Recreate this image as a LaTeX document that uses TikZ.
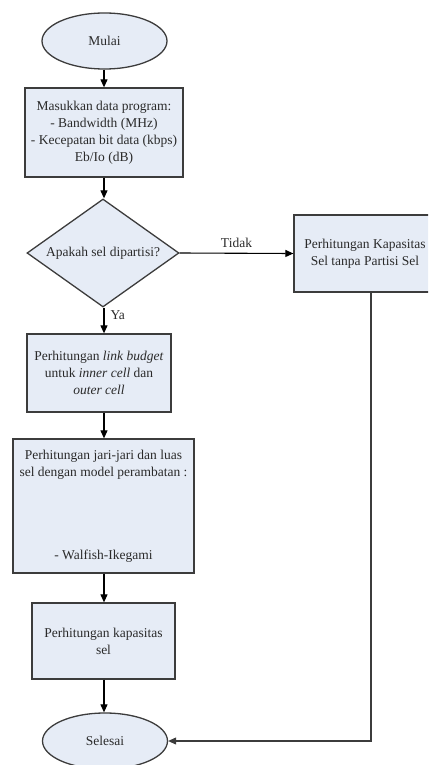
\documentclass[tikz,border=0pt]{standalone}
\usepackage{fontspec}
\setmainfont{Liberation Serif}
\usetikzlibrary{shapes.geometric,arrows.meta}
\definecolor{boxfill}{HTML}{E6ECF6}
\definecolor{boxedge}{HTML}{3C3C3C}
\definecolor{txt}{HTML}{2A2A2A}
\tikzset{
  base/.style={draw=boxedge, line width=1.3pt, fill=boxfill, text=txt, align=center,
    font=\fontsize{13.5pt}{17pt}\selectfont, inner sep=0pt},
  term/.style={base, ellipse, minimum width=125pt, minimum height=56pt},
  procbox/.style={base, rectangle},
  decide/.style={base, diamond, aspect=1.4, minimum width=152pt, minimum height=108pt},
  flow/.style={draw=black, line width=1.1pt, -{Triangle[length=8pt,width=7pt]}},
  lbl/.style={text=txt, font=\fontsize{13.5pt}{17pt}\selectfont, inner sep=0pt}
}
\begin{document}
\begin{tikzpicture}[x=1pt,y=-1pt]
\useasboundingbox (0,0) rectangle (428,765);
\begin{scope}
\clip (0,0) rectangle (428,765);
\node[term] (mulai) at (104.5,41) {Mulai};
\node[procbox, minimum width=158pt, minimum height=89pt] (input) at (104,132.5)
  {Masukkan data program:\\- Bandwidth (MHz)\\- Kecepatan bit data (kbps)\\Eb/Io (dB)};
\node[decide] (dec) at (103,253) {Apakah sel dipartisi?};
\node[procbox, minimum width=142pt, minimum height=77pt] (nopart) at (365,253.5)
  {Perhitungan Kapasitas\\Sel tanpa Partisi Sel};
\node[procbox, minimum width=144pt, minimum height=78pt] (link) at (99,373)
  {Perhitungan \textit{link budget}\\untuk \textit{inner cell} dan\\\textit{outer cell}};
\node[procbox, minimum width=181pt, minimum height=134pt] (radius) at (103.5,506)
  {Perhitungan jari-jari dan luas\\sel dengan model perambatan :\\[66pt]- Walfish-Ikegami};
\node[procbox, minimum width=143pt, minimum height=76pt] (kap) at (103.5,641)
  {Perhitungan kapasitas\\sel};
\node[term, minimum height=56pt] (selesai) at (105,741) {Selesai};
\coordinate (turn) at (371,741);
\coordinate (down) at (371,292);

\draw[flow] (mulai.south -| 104,0) -- (input.north -| 104,0);
\draw[flow] (input.south -| 104,0) -- (dec.north -| 104,0);
\draw[flow] (dec.east) -- node[lbl, above=5pt]{Tidak} (nopart.west);
\draw[flow] (dec.south -| 104,0) -- node[lbl, right=6pt, pos=0.3]{Ya} (link.north -| 104,0);
\draw[flow] (link.south -| 104,0) -- (radius.north -| 104,0);
\draw[flow] (radius.south -| 104,0) -- (kap.north -| 104,0);
\draw[flow] (kap.south -| 104,0) -- (selesai.north -| 104,0);
\draw[flow, draw=boxedge] (nopart.south -| down) -- (turn) -- (selesai.east);
\end{scope}
\end{tikzpicture}
\end{document}
